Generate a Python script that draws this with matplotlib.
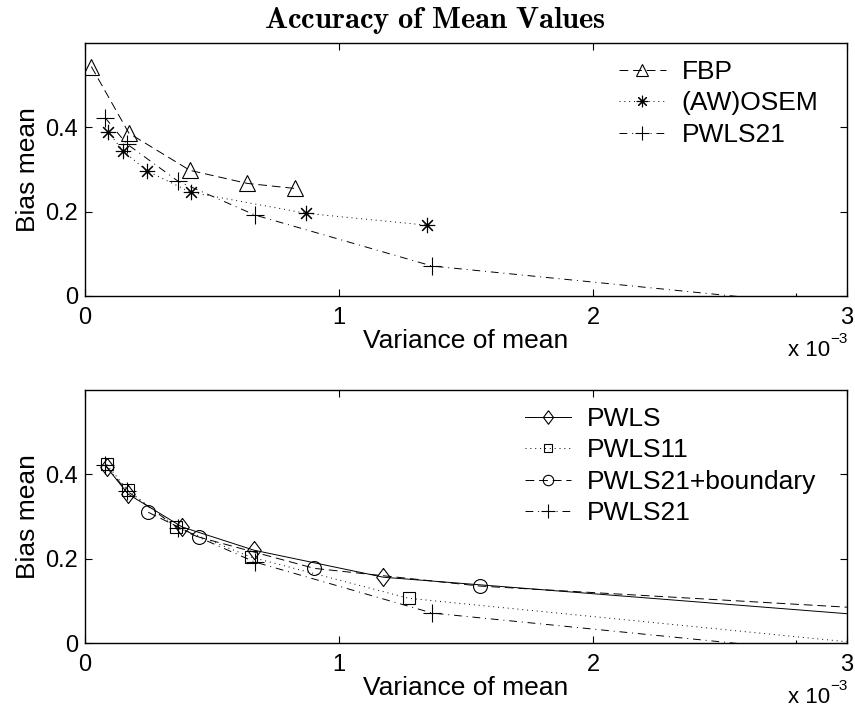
import numpy as np
import matplotlib
matplotlib.use('Agg')
import matplotlib.pyplot as plt

plt.rcParams['font.family'] = ['Liberation Sans', 'DejaVu Sans']
plt.rcParams['mathtext.fontset'] = 'cm'

# ---- data (variance in units of 1e-3) ----
fbp_x = [0.025, 0.173, 0.413, 0.639, 0.827]
fbp_y = [0.544, 0.386, 0.298, 0.267, 0.255]

osem_x = [0.090, 0.150, 0.243, 0.416, 0.872, 1.345]
osem_y = [0.390, 0.344, 0.297, 0.246, 0.196, 0.168]

pwls21_x = [0.079, 0.164, 0.367, 0.669, 1.367, 2.80]
pwls21_y = [0.423, 0.361, 0.272, 0.192, 0.071, -0.015]

pwls_x = [0.085, 0.170, 0.383, 0.666, 1.175, 3.20]
pwls_y = [0.417, 0.353, 0.275, 0.220, 0.156, 0.060]

pwls11_x = [0.085, 0.168, 0.360, 0.652, 1.275, 3.20]
pwls11_y = [0.424, 0.362, 0.275, 0.204, 0.106, -0.009]

bnd_x = [0.249, 0.449, 0.903, 1.555, 3.20]
bnd_y = [0.310, 0.251, 0.177, 0.135, 0.078]

xticks = [0, 1, 2, 3]
yticks = [0, 0.2, 0.4]

W, H = 855, 711
fig = plt.figure(figsize=(W / 100, H / 100), dpi=100)
ax1 = fig.add_axes([85 / W, 1 - 296 / H, 762 / W, 253 / H])
ax2 = fig.add_axes([85 / W, 1 - 643 / H, 762 / W, 253 / H])

lw = 0.7
dash = (9, 5)
dot = (1, 4)
dashdot = (8, 5, 1, 5)
diamond = [(0, 1), (0.75, 0), (0, -1), (-0.75, 0), (0, 1)]
aster = (8, 2, 0)

ax1.plot(fbp_x, fbp_y, color='k', lw=lw, dashes=dash, marker='^', ms=12,
         mfc='none', mew=0.8, label='FBP')
ax1.plot(osem_x, osem_y, color='k', lw=lw, dashes=dot, marker=aster, ms=11,
         mew=0.8, label='(AW)OSEM')
ax1.plot(pwls21_x, pwls21_y, color='k', lw=lw, dashes=dashdot, marker='+', ms=13,
         mew=0.8, label='PWLS21')

ax2.plot(pwls_x, pwls_y, color='k', lw=lw, ls='-', marker=diamond, ms=13,
         mfc='none', mew=0.8, label='PWLS')
ax2.plot(pwls11_x, pwls11_y, color='k', lw=lw, dashes=dot, marker='s', ms=8,
         mfc='none', mew=0.8, label='PWLS11')
ax2.plot(bnd_x, bnd_y, color='k', lw=lw, dashes=dash, marker='o', ms=10,
         mfc='none', mew=0.8, label='PWLS21+boundary')
ax2.plot(pwls21_x, pwls21_y, color='k', lw=lw, dashes=dashdot, marker='+', ms=13,
         mew=0.8, label='PWLS21')

for ax, ybase in ((ax1, 296), (ax2, 643)):
    ax.set_xlim(0, 3)
    ax.set_ylim(0, 0.6)
    ax.set_xticks(xticks)
    ax.set_yticks(yticks)
    ax.set_xticklabels([str(t) for t in xticks])
    ax.set_yticklabels(['0', '0.2', '0.4'])
    ax.tick_params(direction='in', length=5, width=0.8, top=True, right=True,
                   labelsize=17)
    ax.tick_params(axis='x', pad=8)
    ax.tick_params(axis='y', pad=5)
    for s in ax.spines.values():
        s.set_linewidth(1.0)
    ax.set_xlabel('Variance of mean', fontsize=19, labelpad=0)
    ax.set_ylabel('Bias mean', fontsize=19, labelpad=4)
    # MATLAB-style exponent note under the x axis
    ax.text(830 / W, 1 - (ybase + 60) / H, 'x 10', transform=fig.transFigure,
            ha='right', va='baseline', fontsize=16)
    ax.text(848 / W, 1 - (ybase + 47) / H, '\u22123', transform=fig.transFigure,
            ha='right', va='baseline', fontsize=11)

leg1 = ax1.legend(loc='upper left', bbox_to_anchor=(0.684, 0.985), frameon=False,
                  fontsize=19, handlelength=1.75, handletextpad=0.6,
                  labelspacing=0.28, borderpad=0, numpoints=1, markerscale=0.75)
leg2 = ax2.legend(loc='upper left', bbox_to_anchor=(0.560, 0.985), frameon=False,
                  fontsize=19, handlelength=1.75, handletextpad=0.6,
                  labelspacing=0.28, borderpad=0, numpoints=1, markerscale=0.75)

fig.text(435 / W, 1 - 20 / H, r'$\mathbf{Accuracy\ of\ Mean\ Values}$',
         ha='center', va='center', fontsize=22)

fig.savefig('out.png', dpi=100)
